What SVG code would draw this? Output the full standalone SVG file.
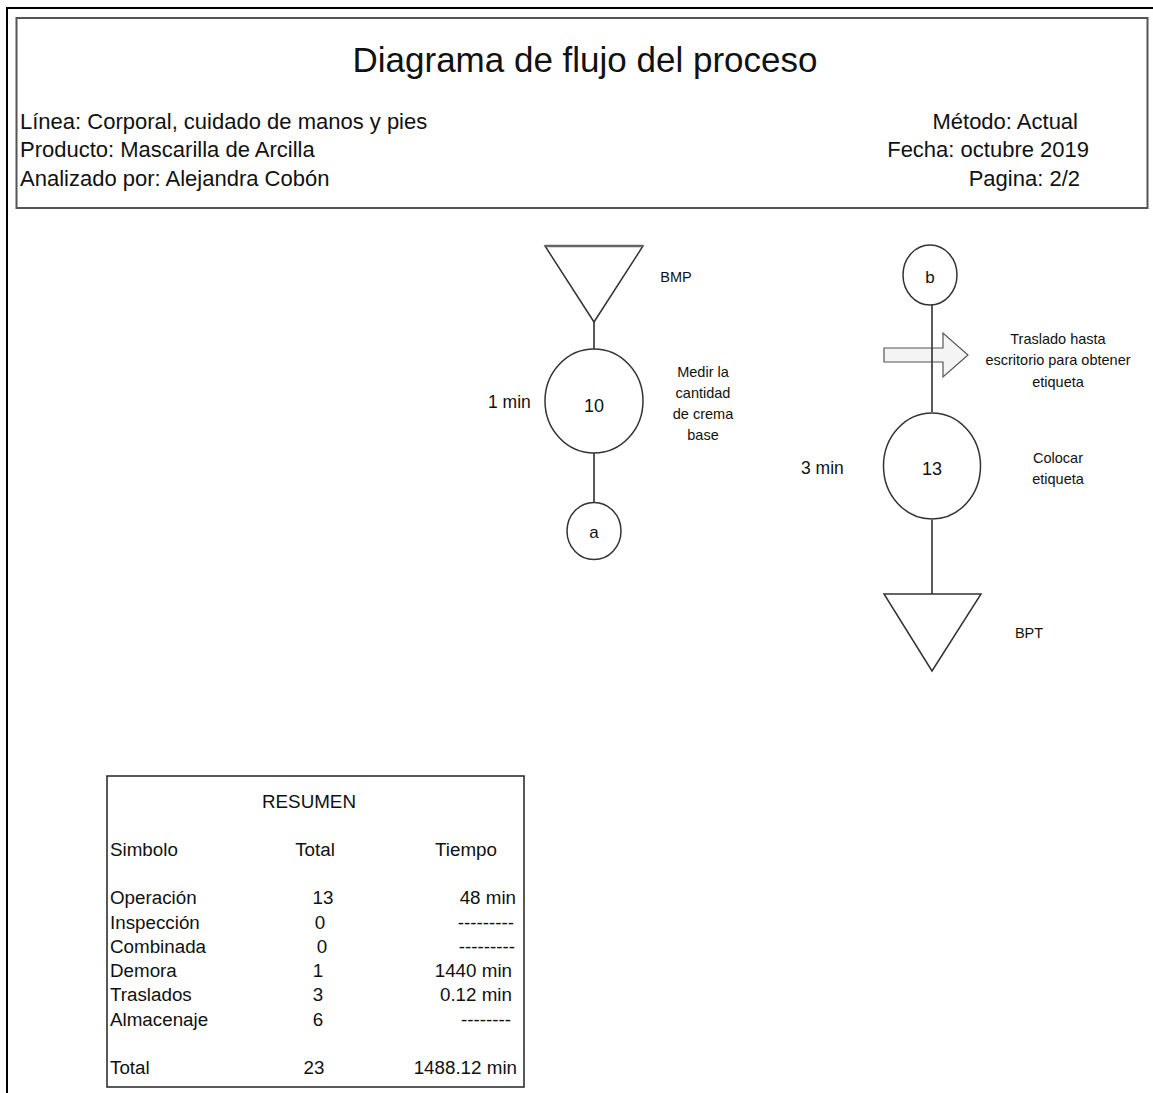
<svg xmlns="http://www.w3.org/2000/svg" width="1153" height="1093" viewBox="0 0 1153 1093">
  <style>
    text { font-family: "Liberation Sans", Arial, sans-serif; fill: #111; }
    .title { font-size: 35px; text-anchor: middle; }
    .hdr { font-size: 22px; }
    .lbl { font-size: 14.5px; text-anchor: middle; }
    .time { font-size: 17.5px; }
    .num { font-size: 18px; text-anchor: middle; }
    .tbl { font-size: 18.8px; }
    .mid { text-anchor: middle; }
    .end { text-anchor: end; }
    .sym { fill: #fff; stroke: #333; stroke-width: 1.5; }
    .conn line { stroke: #222; stroke-width: 1.5; }
  </style>

  <!-- page frame -->
  <g id="frame" fill="none" stroke="#000" stroke-width="2">
    <line x1="7" y1="8" x2="1153" y2="8"/>
    <line x1="7" y1="7" x2="7" y2="1093"/>
  </g>

  <!-- header block -->
  <g id="header">
    <rect x="16.5" y="18" width="1131" height="190" fill="#fff" stroke="#555" stroke-width="2"/>
    <text class="title" x="585" y="72">Diagrama de flujo del proceso</text>
    <text class="hdr" x="20" y="129">Línea: Corporal, cuidado de manos y pies</text>
    <text class="hdr" x="20" y="157">Producto: Mascarilla de Arcilla</text>
    <text class="hdr" x="20" y="186">Analizado por: Alejandra Cobón</text>
    <text class="hdr end" x="1078" y="129">Método: Actual</text>
    <text class="hdr end" x="1089" y="157">Fecha: octubre 2019</text>
    <text class="hdr end" x="1080" y="186">Pagina: 2/2</text>
  </g>

  <!-- connectors -->
  <g id="connectors" class="conn">
    <line x1="594" y1="322" x2="594" y2="350"/>
    <line x1="594" y1="453" x2="594" y2="503"/>
    <line x1="932" y1="305" x2="932" y2="412"/>
    <line x1="932" y1="520" x2="932" y2="594"/>
  </g>

  <!-- left column -->
  <g id="bmp">
    <polygon class="sym" points="545,246 643,246 594,322"/>
    <line x1="545" y1="246" x2="643" y2="246" stroke="#666" stroke-width="2.5"/>
    <text class="lbl" x="676" y="282">BMP</text>
  </g>
  <g id="op10">
    <ellipse class="sym" cx="594" cy="401" rx="49" ry="52"/>
    <text class="num" x="594" y="412">10</text>
    <text class="time" x="488" y="408">1 min</text>
    <text class="lbl" x="703" y="377">Medir la</text>
    <text class="lbl" x="703" y="398">cantidad</text>
    <text class="lbl" x="703" y="419">de crema</text>
    <text class="lbl" x="703" y="440">base</text>
  </g>
  <g id="conn-a">
    <ellipse class="sym" cx="594" cy="531" rx="27" ry="28.5"/>
    <text class="num" x="594" y="538" style="font-size:17px">a</text>
  </g>

  <!-- right column -->
  <g id="conn-b">
    <ellipse class="sym" cx="930" cy="275" rx="27" ry="30"/>
    <text class="num" x="930" y="283" style="font-size:17px">b</text>
  </g>
  <g id="transport">
    <polygon points="884,348 943,348 943,333 968,355 943,377 943,362 884,362" fill="#f4f4f4" stroke="#555" stroke-width="1.2"/>
    <line x1="932" y1="348" x2="932" y2="362" stroke="#222" stroke-width="1.5"/>
    <text class="lbl" x="1058" y="344">Traslado hasta</text>
    <text class="lbl" x="1058" y="365">escritorio para obtener</text>
    <text class="lbl" x="1058" y="387">etiqueta</text>
  </g>
  <g id="op13">
    <ellipse class="sym" cx="932" cy="466" rx="48.5" ry="53"/>
    <text class="num" x="932" y="475">13</text>
    <text class="time" x="801" y="474">3 min</text>
    <text class="lbl" x="1058" y="463">Colocar</text>
    <text class="lbl" x="1058" y="484">etiqueta</text>
  </g>
  <g id="bpt">
    <polygon class="sym" points="884,594 981,594 932,671"/>
    <text class="lbl" x="1029" y="638">BPT</text>
  </g>

  <!-- summary table -->
  <g id="summary">
    <rect x="107" y="776" width="417" height="311" fill="#fff" stroke="#222" stroke-width="1.5"/>
    <text class="tbl mid" x="309" y="808">RESUMEN</text>
    <text class="tbl" x="110" y="856">Simbolo</text>
    <text class="tbl mid" x="315" y="856">Total</text>
    <text class="tbl mid" x="466" y="856">Tiempo</text>

    <text class="tbl" x="110" y="904">Operación</text>
    <text class="tbl" x="110" y="929">Inspección</text>
    <text class="tbl" x="110" y="953">Combinada</text>
    <text class="tbl" x="110" y="977">Demora</text>
    <text class="tbl" x="110" y="1001">Traslados</text>
    <text class="tbl" x="110" y="1026">Almacenaje</text>
    <text class="tbl" x="110" y="1074">Total</text>

    <text class="tbl mid" x="323" y="904">13</text>
    <text class="tbl mid" x="320" y="929">0</text>
    <text class="tbl mid" x="322" y="953">0</text>
    <text class="tbl mid" x="318" y="977">1</text>
    <text class="tbl mid" x="318" y="1001">3</text>
    <text class="tbl mid" x="318" y="1026">6</text>
    <text class="tbl mid" x="314" y="1074">23</text>

    <text class="tbl end" x="516" y="904">48 min</text>
    <text class="tbl end" x="514" y="929">---------</text>
    <text class="tbl end" x="515" y="953">---------</text>
    <text class="tbl end" x="512" y="977">1440 min</text>
    <text class="tbl end" x="512" y="1001">0.12 min</text>
    <text class="tbl end" x="511" y="1026">--------</text>
    <text class="tbl end" x="517" y="1074">1488.12 min</text>
  </g>
</svg>
